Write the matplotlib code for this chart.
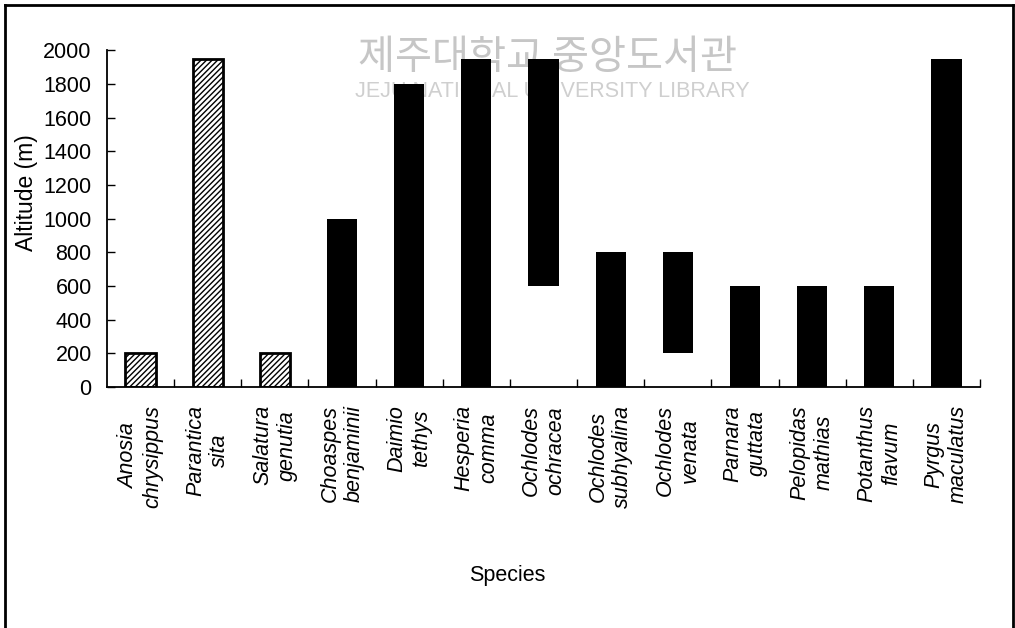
import matplotlib
matplotlib.use("Agg")
import matplotlib.pyplot as plt
from matplotlib.lines import Line2D

plt.rcParams['font.family'] = ['Liberation Sans', 'DejaVu Sans']
plt.rcParams['hatch.linewidth'] = 1.0

species = ["Anosia\nchrysippus", "Parantica\nsita", "Salatura\ngenutia",
           "Choaspes\nbenjaminii", "Daimio\ntethys", "Hesperia\ncomma",
           "Ochlodes\nochracea", "Ochlodes\nsubhyalina", "Ochlodes\nvenata",
           "Parnara\nguttata", "Pelopidas\nmathias", "Potanthus\nflavum",
           "Pyrgus\nmaculatus"]
alt_low = [0, 0, 0, 0, 0, 0, 600, 0, 200, 0, 0, 0, 0]
alt_high = [200, 1950, 200, 1000, 1800, 1950, 1950, 800, 800, 600, 600, 600, 1950]
hatched = [True, True, True, False, False, False, False, False, False, False, False, False, False]
yticks = list(range(0, 2001, 200))

fig = plt.figure(figsize=(10.15, 6.28), dpi=100)
ax = fig.add_axes([0.1054, 0.3838, 0.8601, 0.5362])

# watermark (behind the bars)
ax.text(0.539, 0.908, "제주대학교 중앙도서관", family=['Noto Sans CJK KR'], fontsize=29,
        color='#c6c6c6', ha='center', va='center', zorder=1,
        transform=fig.transFigure, clip_on=False)
ax.text(0.544, 0.855, "JEJU NATIONAL UNIVERSITY LIBRARY", fontsize=15.5,
        color='#cfcfcf', ha='center', va='center', zorder=1,
        transform=fig.transFigure, clip_on=False)

n = len(species)
xs = [i + 0.5 for i in range(n)]
for x, lo, hi, h in zip(xs, alt_low, alt_high, hatched):
    if h:
        ax.bar(x, hi - lo, bottom=lo, width=0.45, facecolor='white', edgecolor='black',
               hatch='//////', linewidth=2, zorder=3)
    else:
        ax.bar(x, hi - lo, bottom=lo, width=0.45, color='black', linewidth=0, zorder=3)

ax.set_xlim(0, n)
ax.set_ylim(0, 2000)
ax.set_yticks(yticks)
ax.set_yticklabels([str(v) for v in yticks], fontsize=15.5)
ax.set_xticks(range(1, n + 1))
ax.set_xticklabels([])
ax.set_xticks(xs, minor=True)
ax.set_xticklabels(species, minor=True, rotation=90, fontsize=15.5, style='italic',
                   ha='center', va='top', multialignment='center')
ax.tick_params(axis='x', which='minor', length=0, pad=13)
ax.tick_params(axis='x', which='major', direction='in', length=6, width=1)
ax.tick_params(axis='y', direction='in', length=6, width=1, pad=11)

for s in ['top', 'right']:
    ax.spines[s].set_visible(False)
for s in ['left', 'bottom']:
    ax.spines[s].set_linewidth(1.3)
    ax.spines[s].set_zorder(4)

ax.set_ylabel("Altitude (m)", fontsize=16.5)
ax.yaxis.set_label_coords(-0.079, 0.576)
ax.set_xlabel("Species", fontsize=15.5)
ax.xaxis.set_label_coords(0.458, -0.528)

# figure frame
fig.add_artist(Line2D([4.5/1015, 4.5/1015], [0, 1 - 5/628], color='black', lw=2, transform=fig.transFigure))
fig.add_artist(Line2D([4.5/1015, 1013/1015], [1 - 5/628, 1 - 5/628], color='black', lw=2, transform=fig.transFigure))
fig.add_artist(Line2D([1013/1015, 1013/1015], [0, 1 - 5/628], color='black', lw=2, transform=fig.transFigure))

fig.savefig("out.png", dpi=100)
